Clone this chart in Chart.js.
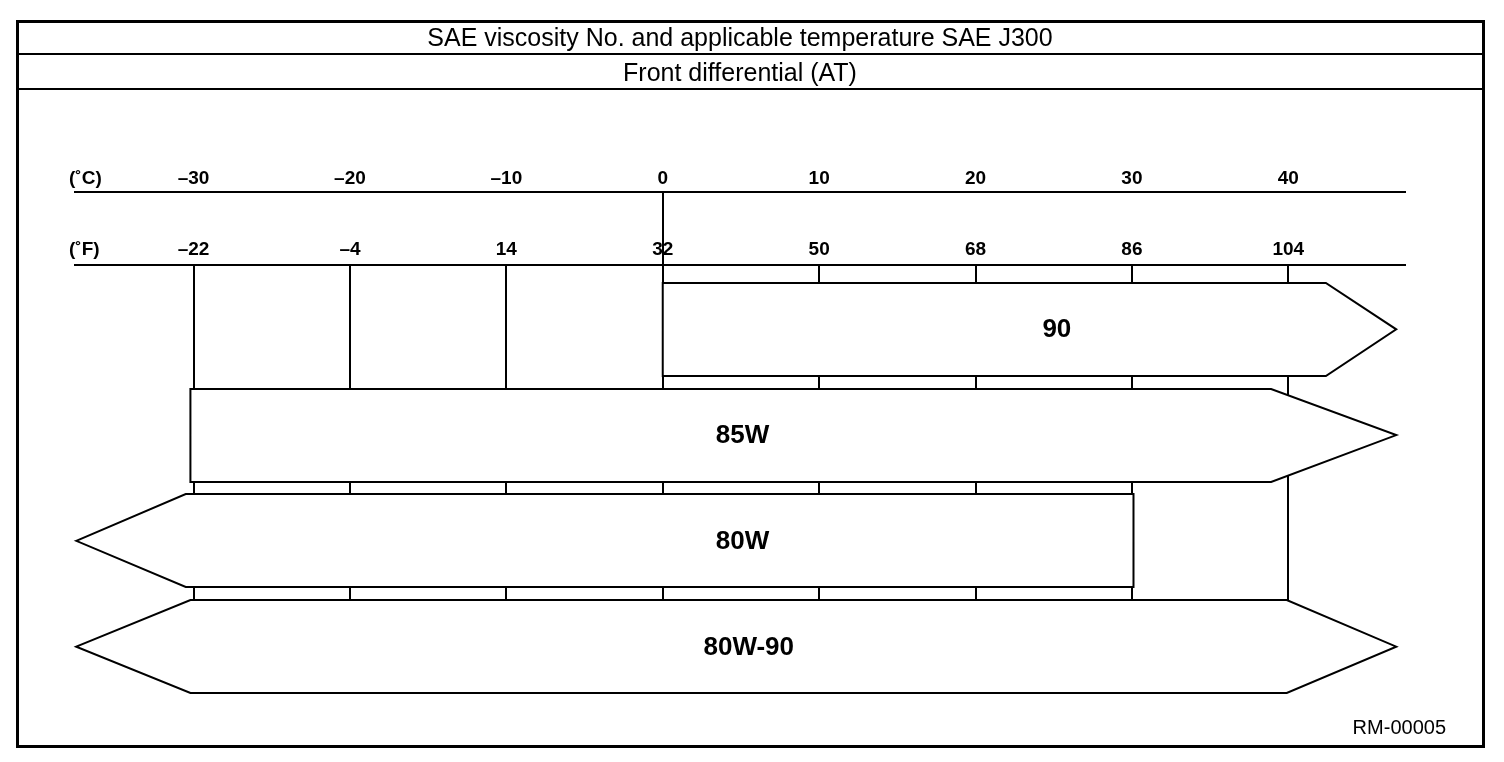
<!DOCTYPE html>
<html>
<head>
<meta charset="utf-8">
<script src="https://cdn.jsdelivr.net/npm/chart.js@4/dist/chart.umd.min.js"></script>
<style>
  html, body { margin: 0; padding: 0; background: #fff; }
  canvas { display: block; }
</style>
</head>
<body>
<canvas id="chart" width="1504" height="762"></canvas>
<script>
// SAE grades, one arrow each (temperatures in °C)
const grades    = ["90", "85W", "80W", "80W-90"];
const bodyFrom  = [0, -30.2, -30.5, -30.2];
const bodyTo    = [42.4, 38.9, 30.1, 39.9];
const tipLeft   = [null, null, -37.5, -37.5];
const tipRight  = [46.9, 46.9, null, 46.9];
const labelAt   = [25.2, 5.1, 5.1, 5.5];

const celsiusTicks    = [-30, -20, -10, 0, 10, 20, 30, 40];
const fahrenheitTicks = [-22, -4, 14, 32, 50, 68, 86, 104];
const celsiusRange    = [-37.58, 47.46];
const rowRange        = [-0.608, 3.41];

const toF = c => c * 9 / 5 + 32;
const FONT = "'Liberation Sans', Arial, Helvetica, sans-serif";
const fmt = v => (v < 0 ? "\u2013" + Math.abs(v) : String(v));

// frame, title rules, arrows, labels
const drawing = {
  id: "drawing",
  beforeDraw(chart) {
    const ctx = chart.ctx;
    ctx.save();
    ctx.fillStyle = "#fff";
    ctx.fillRect(0, 0, chart.width, chart.height);
    ctx.restore();
  },
  afterDatasetsDraw(chart) {
    const ctx = chart.ctx;
    const xs = chart.scales.x, xf = chart.scales.xF;
    const meta = chart.getDatasetMeta(0);
    ctx.save();
    // 0 °C link between the two scales
    ctx.strokeStyle = "#000";
    ctx.lineWidth = 2;
    const x0 = Math.round(xs.getPixelForValue(0));
    ctx.beginPath();
    ctx.moveTo(x0, xs.bottom);
    ctx.lineTo(x0, xf.bottom);
    ctx.stroke();

    meta.data.forEach((el, i) => {
      const yc = el.y, h = el.height / 2;
      const top = Math.round(yc - h), bot = Math.round(yc + h);
      const xl = xs.getPixelForValue(bodyFrom[i]);
      const xr = xs.getPixelForValue(bodyTo[i]);
      ctx.beginPath();
      if (tipLeft[i] !== null) ctx.moveTo(xs.getPixelForValue(tipLeft[i]), yc);
      else ctx.moveTo(xl, bot);
      ctx.lineTo(xl, top);
      ctx.lineTo(xr, top);
      if (tipRight[i] !== null) ctx.lineTo(xs.getPixelForValue(tipRight[i]), yc);
      ctx.lineTo(xr, bot);
      ctx.lineTo(xl, bot);
      ctx.closePath();
      ctx.fillStyle = "#fff";
      ctx.fill();
      ctx.lineJoin = "miter";
      ctx.stroke();

      ctx.fillStyle = "#000";
      ctx.font = "bold 26px " + FONT;
      ctx.textAlign = "center";
      ctx.textBaseline = "middle";
      ctx.fillText(grades[i], xs.getPixelForValue(labelAt[i]), yc + 1);
    });
    ctx.restore();
  },
  afterDraw(chart) {
    const ctx = chart.ctx;
    const xs = chart.scales.x, xf = chart.scales.xF;
    ctx.save();
    ctx.strokeStyle = "#000";
    ctx.lineWidth = 3;
    ctx.strokeRect(17.5, 21.5, 1466, 725);
    ctx.lineWidth = 2;
    ctx.beginPath();
    ctx.moveTo(17, 54); ctx.lineTo(1484, 54);
    ctx.moveTo(17, 89); ctx.lineTo(1484, 89);
    ctx.stroke();

    ctx.fillStyle = "#000";
    ctx.font = "bold 19px " + FONT;
    ctx.textAlign = "left";
    ctx.textBaseline = "middle";
    ctx.fillText("(\u02DAC)", 69, xs.bottom - 13);
    ctx.fillText("(\u02DAF)", 69, xf.bottom - 15);

    ctx.font = "20px " + FONT;
    ctx.textAlign = "right";
    ctx.fillText("RM-00005", 1446, 728);
    ctx.restore();
  }
};

const tickFont = { family: FONT, size: 19, weight: "bold" };

new Chart(document.getElementById("chart"), {
  type: "bar",
  data: {
    datasets: [{
      data: grades.map((g, i) => ({ y: i, x: [bodyFrom[i], bodyTo[i]] })),
      backgroundColor: "rgba(0,0,0,0)",
      borderWidth: 0,
      barThickness: 93
    }]
  },
  options: {
    indexAxis: "y",
    responsive: false,
    animation: false,
    devicePixelRatio: 1,
    layout: { padding: { top: 21, left: 75, right: 99, bottom: 72 } },
    plugins: {
      legend: { display: false },
      tooltip: { enabled: false },
      title: {
        display: true,
        text: "SAE viscosity No. and applicable temperature SAE J300",
        color: "#000",
        font: { family: FONT, size: 25, weight: "normal" },
        padding: { top: 3, bottom: 4 }
      },
      subtitle: {
        display: true,
        text: "Front differential (AT)",
        color: "#000",
        font: { family: FONT, size: 25, weight: "normal" },
        padding: { top: 1, bottom: 63 }
      }
    },
    scales: {
      x: {
        type: "linear",
        position: "top",
        weight: 1,
        min: celsiusRange[0],
        max: celsiusRange[1],
        afterBuildTicks: s => { s.ticks = celsiusTicks.map(v => ({ value: v })); },
        afterFit: s => { s.height = 40; },
        grid: { display: false, drawTicks: false },
        border: { display: true, color: "#000", width: 2 },
        ticks: { color: "#000", font: tickFont, padding: 2, maxRotation: 0, callback: fmt }
      },
      xF: {
        type: "linear",
        axis: "x",
        position: "top",
        weight: 0,
        min: toF(celsiusRange[0]),
        max: toF(celsiusRange[1]),
        afterBuildTicks: s => { s.ticks = fahrenheitTicks.map(v => ({ value: v })); },
        afterFit: s => { s.height = 73; },
        grid: { display: true, drawTicks: false, color: "#000", lineWidth: 2 },
        border: { display: true, color: "#000", width: 2 },
        ticks: { color: "#000", font: tickFont, padding: 4, maxRotation: 0, callback: fmt }
      },
      y: {
        type: "linear",
        reverse: true,
        offset: false,
        min: rowRange[0],
        max: rowRange[1],
        display: false
      }
    }
  },
  plugins: [drawing]
});
</script>
</body>
</html>
